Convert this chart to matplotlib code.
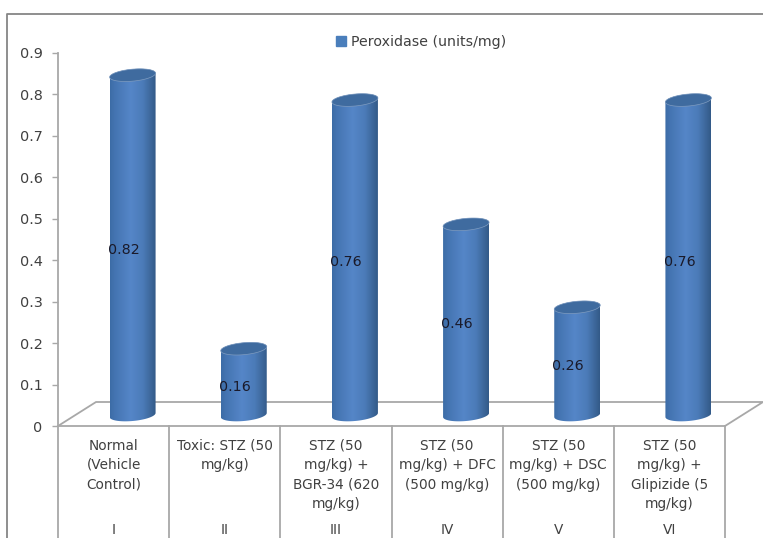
import numpy as np
from matplotlib import pyplot as plt
from matplotlib.colors import LinearSegmentedColormap
from matplotlib.lines import Line2D
from matplotlib.patches import Patch, PathPatch
from matplotlib.path import Path

categories = ['Normal\n(Vehicle\nControl)', 'Toxic: STZ (50\nmg/kg)', 'STZ (50\nmg/kg) +\nBGR-34 (620\nmg/kg)',
              'STZ (50\nmg/kg) + DFC\n(500 mg/kg)', 'STZ (50\nmg/kg) + DSC\n(500 mg/kg)',
              'STZ (50\nmg/kg) +\nGlipizide (5\nmg/kg)']
groups = ['I', 'II', 'III', 'IV', 'V', 'VI']
peroxidase = [0.82, 0.16, 0.76, 0.46, 0.26, 0.76]
y_ticks = [0, 0.1, 0.2, 0.3, 0.4, 0.5, 0.6, 0.7, 0.8, 0.9]
y_labels = ['0', '0.1', '0.2', '0.3', '0.4', '0.5', '0.6', '0.7', '0.8', '0.9']

W, H = 763, 538
GRAY = '#a8a8a8'
TEXT = '#404040'

# pixels -> data units
ppx = 667 / 6
ppy = 373 / 0.9
floor_dx = 38 / ppx
floor_dy = 24 / ppy
bar_dx = 19 / ppx
bar_dy = 11 / ppy
half_w = 23 / ppx
ell_h = 6 / ppy
tilt = (2 / ppy) / half_w

plt.rcParams['font.family'] = 'DejaVu Sans'
fig = plt.figure(figsize=(W / 100, H / 100), dpi=100)
ax = fig.add_axes([58 / W, (H - 426) / H, 667 / W, 373 / H])

bar_cmap = LinearSegmentedColormap.from_list(
    'cyl', [(0, '#3c6ca6'), (0.1, '#4474b1'), (0.45, '#5586c8'), (0.72, '#4b7bb8'), (0.9, '#3c6699'), (1, '#335a88')])

# back part of the floor, bars go over it
ax.plot([0, floor_dx, 6 + floor_dx, 6], [0, floor_dy, floor_dy, 0], color=GRAY, lw=1.3, clip_on=False, zorder=1)


def ellipse(cx, cy, t):
    x = half_w * np.cos(t)
    return cx + x, cy + ell_h * np.sin(t) + tilt * x


grad = np.linspace(0, 1, 200).reshape(1, -1)
for i, val in enumerate(peroxidase):
    cx = i + 0.5 + bar_dx
    top = val + bar_dy
    # outline: lower half of the base ellipse, then back over the top
    xb, yb = ellipse(cx, bar_dy, np.linspace(np.pi, 2 * np.pi, 40))
    xt, yt = ellipse(cx, top, np.linspace(0, np.pi, 40))
    body = Path(np.column_stack([np.r_[xb, xt], np.r_[yb, yt]]))
    patch = PathPatch(body, fc='none', ec='none', transform=ax.transData)
    ax.add_patch(patch)
    im = ax.imshow(grad, cmap=bar_cmap, aspect='auto', zorder=2,
                   extent=[cx - half_w, cx + half_w, bar_dy - 2 * ell_h, top + 2 * ell_h])
    im.set_clip_path(patch)
    xc, yc = ellipse(cx, top, np.linspace(0, 2 * np.pi, 80))
    ax.fill(xc, yc, color='#3f6b9f', ec='#7f9cc0', lw=0.5, zorder=3, clip_on=False)
    ax.text(i + 0.5 + 0.09, val / 2 + 0.015, f'{val:g}', ha='center', va='center', fontsize=10.3,
            color='#1a1a2a', zorder=4)

ax.set_xlim(0, 6)
ax.set_ylim(0, 0.9)

ax.spines['top'].set_visible(False)
ax.spines['right'].set_visible(False)
ax.spines['left'].set_color(GRAY)
ax.spines['left'].set_linewidth(1.3)
ax.spines['bottom'].set_color(GRAY)
ax.spines['bottom'].set_linewidth(1.3)

ax.set_yticks(y_ticks, y_labels)
ax.tick_params(axis='y', length=4, width=1, color=GRAY, labelcolor=TEXT, labelsize=10.4, pad=7)
ax.set_xticks(np.arange(6) + 0.5, categories, linespacing=1.5)
ax.tick_params(axis='x', length=0, labelcolor=TEXT, labelsize=9.8, pad=9)

# table like dividers under the axis, run off the image
bottom = -(538 - 426) / ppy
for x in range(7):
    ax.plot([x, x], [0, bottom], color=GRAY, lw=1.3, clip_on=False, zorder=1)
for i, g in enumerate(groups):
    ax.text(i + 0.5, -(530 - 426) / ppy, g, ha='center', va='center', fontsize=9.8, color=TEXT)

ax.legend(handles=[Patch(color='#4a7ebb', label='Peroxidase (units/mg)')], loc='center', frameon=False,
          bbox_to_anchor=(421 / W, 1 - 42 / H), bbox_transform=fig.transFigure, fontsize=10.2, labelcolor=TEXT,
          handlelength=0.7, handleheight=0.7, handletextpad=0.4)

# chart area border
fig.add_artist(Line2D([7 / W, 7 / W, 1], [0, 1 - 14 / H, 1 - 14 / H], color='#868686', lw=1.3))

plt.savefig('out.png', dpi=100)
